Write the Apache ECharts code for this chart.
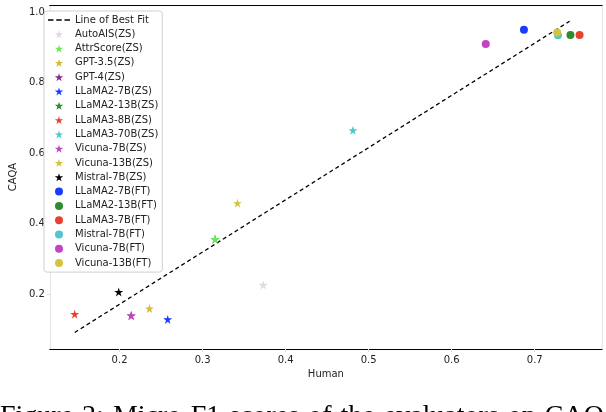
<!DOCTYPE html>
<html><head><meta charset="utf-8">
<script src="https://cdn.jsdelivr.net/npm/echarts@6/dist/echarts.min.js"></script>
<style>html,body{margin:0;padding:0;background:#fff}#c{width:606px;height:412px}</style>
</head><body><div id="c"></div>
<script>
const zsNames = ['AutoAIS(ZS)','AttrScore(ZS)','GPT-3.5(ZS)','GPT-4(ZS)','LLaMA2-7B(ZS)','LLaMA2-13B(ZS)','LLaMA3-8B(ZS)','LLaMA3-70B(ZS)','Vicuna-7B(ZS)','Vicuna-13B(ZS)','Mistral-7B(ZS)'];
const zsHuman = [0.373,0.315,0.236,0.214,0.258,0.315,0.146,0.481,0.214,0.342,0.199];
const zsCAQA  = [0.226,0.356,0.159,0.139,0.128,0.356,0.143,0.665,0.139,0.458,0.206];
const zsColors = ['#dcdcdc','#66ee55','#d4bb3a','#8b2a8b','#1a3cff','#2e8b2e','#e8412c','#4ec8cc','#c044c4','#d6c23c','#000000'];
const ftNames = ['LLaMA2-7B(FT)','LLaMA2-13B(FT)','LLaMA3-7B(FT)','Mistral-7B(FT)','Vicuna-7B(FT)','Vicuna-13B(FT)'];
const ftHuman = [0.687,0.743,0.754,0.728,0.641,0.727];
const ftCAQA  = [0.951,0.936,0.936,0.935,0.910,0.943];
const ftColors = ['#1a3cff','#2e8b2e','#e8412c','#4ec8cc','#c044c4','#d6c23c'];
const fitX = [0.146,0.742];
const fitY = [0.091,0.975];
const xTicks = [0.2,0.3,0.4,0.5,0.6,0.7];
const yTicks = [0.2,0.4,0.6,0.8,1.0];
const captionWords = ['Figure','3:','Micro-F1','scores','of','the','evaluators','on','CAQA'];
const hiddenBelow = ['GPT-4(ZS)','LLaMA2-13B(ZS)'];

const star = 'path://M50,0 L61.2,34.5 L97.6,34.5 L68.2,55.9 L79.4,90.5 L50,69.1 L20.6,90.5 L31.8,55.9 L2.4,34.5 L38.8,34.5 Z';
const font = 'DejaVu Sans';
const series = [{
  name:'Line of Best Fit', type:'line', symbol:'none', silent:true,
  data: fitX.map((x,i)=>[x,fitY[i]]),
  lineStyle:{color:'#000',width:1.3,type:[4,3]}, itemStyle:{color:'#000'}, z:3
}];
zsNames.forEach((n,i)=>series.push({name:n,type:'scatter',symbol:star,symbolSize:9,
  data:[[zsHuman[i],zsCAQA[i]]],itemStyle:{color:zsColors[i],opacity:1},z:hiddenBelow.includes(n)?3.5:4}));
ftNames.forEach((n,i)=>series.push({name:n,type:'scatter',symbol:'circle',symbolSize:8,
  data:[[ftHuman[i],ftCAQA[i]]],itemStyle:{color:ftColors[i],opacity:1},z:5}));

const cfont = '28px "Liberation Serif"';
const mctx = document.createElement('canvas').getContext('2d');
mctx.font = cfont;
const gap = 9;
let cx = 0;
const captionGraphics = captionWords.map(w=>{
  const el = {type:'text',x:cx,y:403,style:{text:w,font:cfont,fill:'#000',textVerticalAlign:'top'}};
  cx += mctx.measureText(w).width + gap;
  return el;
});

const chart = echarts.init(document.getElementById('c'),null,{renderer:'canvas'});
chart.setOption({
  animation:false,
  grid:{left:40,right:4,top:5,bottom:63,show:false},
  xAxis:[{type:'value',min:0.116,max:0.781,position:'bottom',
    name:'Human',nameLocation:'middle',nameGap:20,nameTextStyle:{fontFamily:font,fontSize:10,color:'#222'},
    axisLine:{lineStyle:{color:'#000',width:1.2}},
    axisTick:{show:true,customValues:xTicks,length:3,lineStyle:{color:'#ddd'}},
    axisLabel:{customValues:xTicks,fontFamily:font,fontSize:10,color:'#222',margin:6,formatter:v=>v.toFixed(1)},
    splitLine:{show:false}},
   {type:'value',min:0.116,max:0.781,position:'top',axisLine:{show:true,onZero:false,lineStyle:{color:'#000',width:1.2}},
    axisTick:{show:false},axisLabel:{show:false},splitLine:{show:false}}],
  yAxis:[{type:'value',min:0.044,max:1.021,position:'left',
    name:'CAQA',nameLocation:'middle',nameGap:28,nameTextStyle:{fontFamily:font,fontSize:10,color:'#222'},
    axisLine:{show:true,lineStyle:{color:'#e6e6e6',width:1.2}},
    axisTick:{show:true,customValues:yTicks,length:3.5,lineStyle:{color:'#ddd'}},
    axisLabel:{customValues:yTicks,fontFamily:font,fontSize:10,color:'#222',margin:5,formatter:v=>v.toFixed(1)},
    splitLine:{show:false}},
   {type:'value',min:0.044,max:1.021,position:'right',axisLine:{show:true,onZero:false,lineStyle:{color:'#e6e6e6',width:1.2}},
    axisTick:{show:false},axisLabel:{show:false},splitLine:{show:false}}],
  legend:{orient:'vertical',left:44,top:11,padding:[3,4,3,4],
    borderColor:'#d0d0d0',borderWidth:1,borderRadius:3,backgroundColor:'#fff',
    itemWidth:22,itemHeight:8,itemGap:2.3,
    textStyle:{fontFamily:font,fontSize:10,color:'#222',lineHeight:12},
    data:[{name:'Line of Best Fit',icon:'path://M0,0h5.5v1.3h-5.5z M8.25,0h5.5v1.3h-5.5z M16.5,0h5.5v1.3h-5.5z'}]
      .concat(zsNames).concat(ftNames).map(d=>typeof d==='string'?{name:d,itemStyle:{opacity:1}}:d)
  },
  graphic:captionGraphics,
  series
});
</script></body></html>
